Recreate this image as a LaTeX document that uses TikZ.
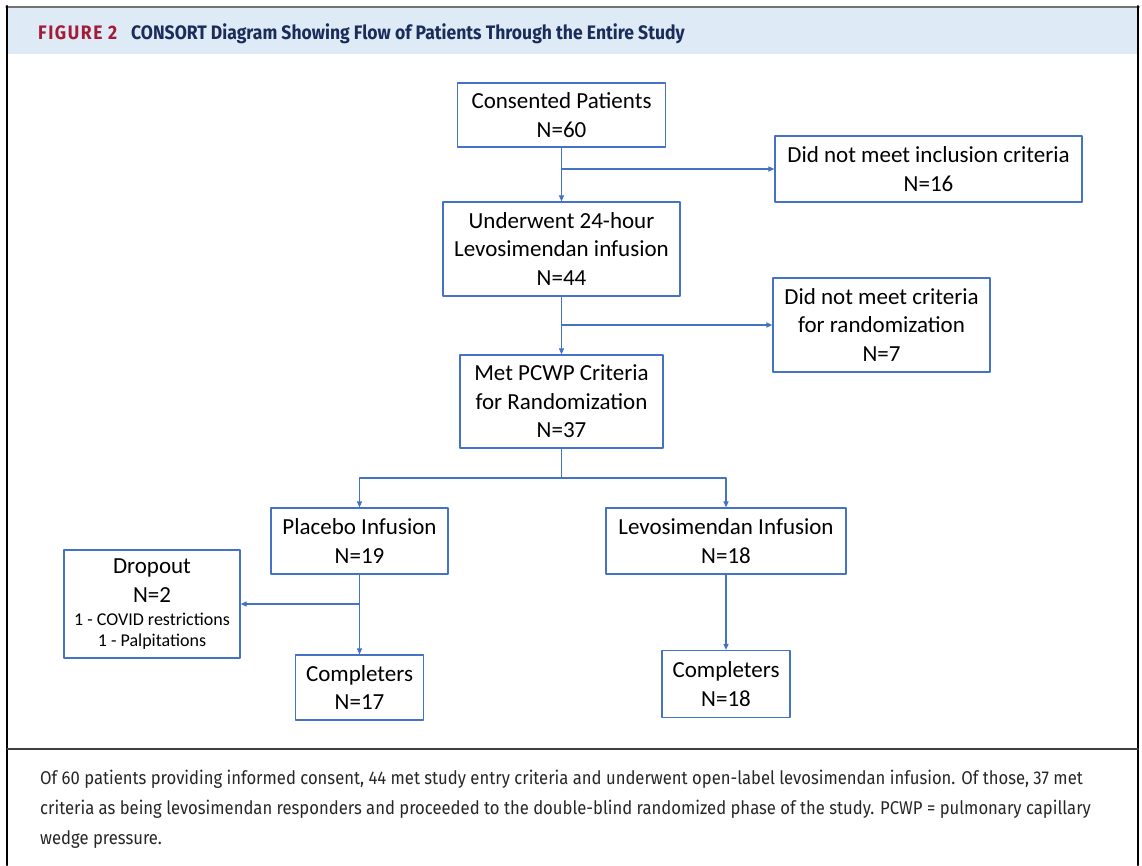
\documentclass[tikz,border=0pt]{standalone}
\usepackage{fontspec}
\setmainfont{Carlito}
\newfontfamily\headfont[FakeStretch=0.9]{Fira Sans}
\newfontfamily\capfont[FakeStretch=0.9]{Fira Sans}
\usetikzlibrary{arrows.meta}
\definecolor{boxblue}{HTML}{4472C4}
\definecolor{headbg}{HTML}{DEEAF6}
\definecolor{figred}{HTML}{A31C37}
\definecolor{navy}{HTML}{1A2D5A}
\newcommand{\smalltxt}{\fontsize{18}{21}\selectfont}
\begin{document}
\begin{tikzpicture}[x=1pt, y=-1pt, line cap=round, line join=round, font=\fontsize{23}{28.5}\selectfont, >={Triangle[length=6pt,width=5pt]}]
		\tikzset{box/.style={draw=boxblue, line width=1.2pt, align=center, inner sep=0pt},
			link/.style={->, draw=boxblue, line width=1.1pt}}
		\useasboundingbox (0,0) rectangle (1142,865);
		% frame, header band and caption rule
		\fill[headbg] (8,8) rectangle (1137,54);
		\draw[black!55, line width=1.5pt] (6,7) -- (1139,7);
		\draw[line width=2.5pt] (7,6) -- (7,865);
		\draw[line width=2pt] (1138,6) -- (1138,865);
		\draw[black!75, line width=1.5pt] (7,749) -- (1138,749);
		\node[anchor=base west, inner sep=0pt, text=figred] (fig) at (38,39.5) {\headfont\bfseries\fontsize{19.5}{22}\selectfont\addfontfeature{LetterSpace=8}FIGURE 2};
		\node[anchor=base west, inner sep=0pt, text=navy] (title) at (131,39.5) {\headfont\bfseries\fontsize{19.5}{22}\selectfont CONSORT Diagram Showing Flow of Patients Through the Entire Study};
		% boxes
		\node[box, minimum width=208pt, minimum height=64pt] (cons) at (561.5,115) {Consented Patients\\N=60};
		\node[box, minimum width=307pt, minimum height=66pt] (nincl) at (928.5,169) {Did not meet inclusion criteria\\N=16};
		\node[box, minimum width=237pt, minimum height=94pt] (infus) at (561.5,249) {Underwent 24-hour\\Levosimendan infusion\\N=44};
		\node[box, minimum width=217pt, minimum height=94pt] (nrand) at (881.5,325) {Did not meet criteria\\for randomization\\N=7};
		\node[box, minimum width=203pt, minimum height=93pt] (rand) at (561.5,401.5) {Met PCWP Criteria\\for Randomization\\N=37};
		\node[box, minimum width=177pt, minimum height=66pt] (plac) at (359.5,541) {Placebo Infusion\\N=19};
		\node[box, minimum width=240pt, minimum height=66pt] (levo) at (726,541) {Levosimendan Infusion\\N=18};
		\node[box, minimum width=176pt, minimum height=108pt] (drop) at (152,604) {Dropout\\N=2\\[-5pt]{\smalltxt 1 - COVID restrictions}\\[-8pt]{\smalltxt 1 - Palpitations}};
		\node[box, minimum width=128pt, minimum height=65pt] (compP) at (359.5,687.5) {Completers\\N=17};
		\node[box, minimum width=128pt, minimum height=67pt] (compL) at (726,684) {Completers\\N=18};
		\coordinate (split) at (561.5,478);
		% connectors
		\draw[link] (cons) -- (infus);
		\draw[link] (cons.south |- nincl.west) -- (nincl.west);
		\draw[link] (infus) -- (rand);
		\draw[link] (infus.south |- nrand.west) -- (nrand.west);
		\draw[link] (rand) -- (split) -| (plac);
		\draw[link] (split) -| (levo);
		\draw[link] (plac) -- (compP);
		\draw[link] (plac.south |- drop.east) -- (drop.east);
		\draw[link] (levo) -- (compL);
		% caption
		\node[anchor=base west, inner sep=0pt, align=left, text=black!85, font=\capfont\fontsize{18.5}{30}\selectfont] (note) at (40,844) {Of 60 patients providing informed consent, 44 met study entry criteria and underwent open-label levosimendan infusion. Of those, 37 met\\criteria as being levosimendan responders and proceeded to the double-blind randomized phase of the study. PCWP = pulmonary capillary\\wedge pressure.};
\end{tikzpicture}
\end{document}
